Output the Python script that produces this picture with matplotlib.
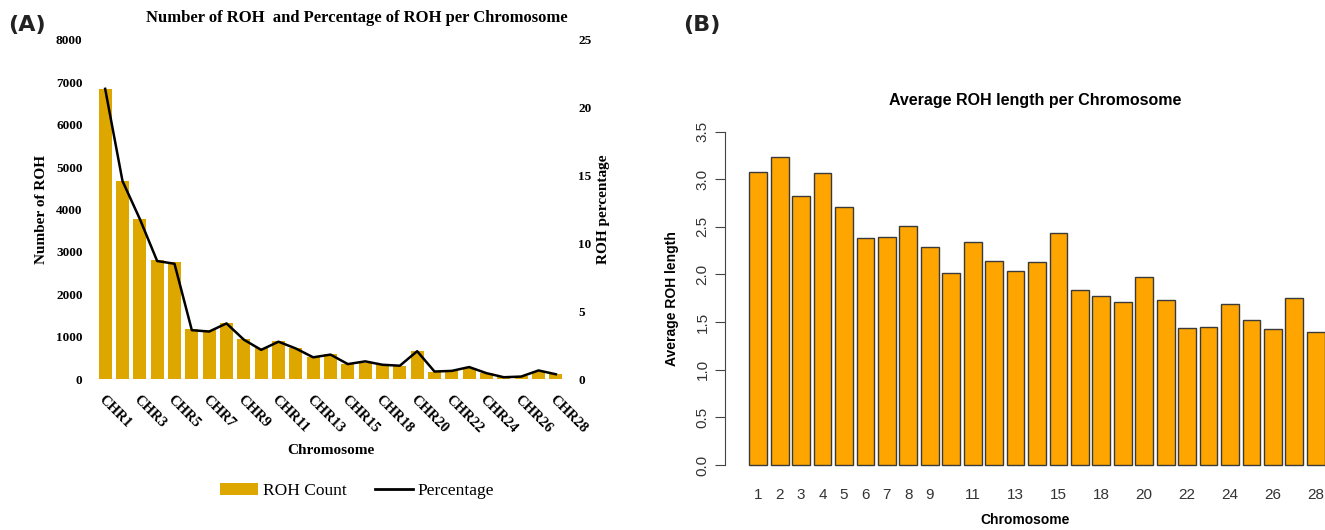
import numpy as np
import matplotlib
matplotlib.use('Agg')
import matplotlib.pyplot as plt
from matplotlib.patches import Patch
from matplotlib.lines import Line2D

# chromosomes present (no 17)
chrom = [1, 2, 3, 4, 5, 6, 7, 8, 9, 10, 11, 12, 13, 14, 15, 16,
         18, 19, 20, 21, 22, 23, 24, 25, 26, 27, 28]

roh_count = [6850, 4670, 3780, 2810, 2750, 1180, 1150, 1330, 950, 720, 900, 740, 520, 580,
             360, 380, 330, 310, 650, 175, 180, 255, 140, 60, 75, 155, 110]
roh_pct = [21.4, 14.6, 11.8, 8.7, 8.5, 3.6, 3.5, 4.1, 2.9, 2.15, 2.75, 2.25, 1.6, 1.8,
           1.1, 1.3, 1.05, 0.98, 2.05, 0.55, 0.6, 0.88, 0.43, 0.13, 0.18, 0.63, 0.35]

avg_len = [3.07, 3.23, 2.82, 3.06, 2.71, 2.38, 2.39, 2.51, 2.29, 2.01, 2.34, 2.14, 2.04, 2.13,
           2.43, 1.84, 1.77, 1.71, 1.97, 1.73, 1.44, 1.45, 1.69, 1.52, 1.43, 1.75, 1.40]

a_labels = ['CHR%d' % c for c in chrom[::2]]
b_labels = ['1', '2', '3', '4', '5', '6', '7', '8', '9', '11', '13', '15', '18',
            '20', '22', '24', '26', '28']

W, H = 1325, 530
fig = plt.figure(figsize=(13.25, 5.3), dpi=100)

def fx(px):
    return px / W

def fy(py):
    return 1 - py / H

serif = 'Liberation Serif'
sans = 'Liberation Sans'
gold = '#DEA700'
orange = '#FFA500'

# ---------------- Panel A ----------------
x = np.arange(len(chrom))
axA = fig.add_axes([fx(96.5), fy(379), fx(468), fy(40) - fy(379)])
axA.bar(x, roh_count, width=0.76, color=gold, zorder=2)
axA.set_xlim(-0.5, len(chrom) - 0.5)
axA.set_ylim(0, 8000)
axA.set_yticks(np.arange(0, 8001, 1000))
axA.set_yticklabels([str(v) for v in range(0, 8001, 1000)],
                    fontfamily=serif, fontweight='bold', fontsize=9.5)
axA.axhline(0, color='#d9d9d9', lw=1, zorder=1)
for s in axA.spines.values():
    s.set_visible(False)
axA.tick_params(axis='both', length=0)
axA.tick_params(axis='y', pad=10)
axA.set_xticks(x[::2])
axA.set_xticklabels(a_labels, rotation=-45, ha='left', va='top', rotation_mode='anchor',
                    fontfamily=serif, fontweight='bold', fontsize=10.5)
axA.tick_params(axis='x', pad=10)
axA.set_ylabel('Number of ROH', fontfamily=serif, fontweight='bold', fontsize=11, labelpad=6)
axA.set_xlabel('Chromosome', fontfamily=serif, fontweight='bold', fontsize=11, labelpad=6)

axA2 = axA.twinx()
axA2.plot(x, roh_pct, color='black', lw=1.8, zorder=3)
axA2.set_ylim(0, 25)
axA2.set_yticks(np.arange(0, 26, 5))
axA2.set_yticklabels([str(v) for v in range(0, 26, 5)],
                     fontfamily=serif, fontweight='bold', fontsize=9.5)
for s in axA2.spines.values():
    s.set_visible(False)
axA2.tick_params(axis='y', length=0, pad=10)
axA2.set_ylabel('ROH percentage', fontfamily=serif, fontweight='bold', fontsize=11, labelpad=4)

fig.text(fx(357), fy(18), 'Number of ROH  and Percentage of ROH per Chromosome',
         ha='center', va='center', fontfamily=serif, fontweight='bold', fontsize=12)

handles = [Patch(facecolor=gold, edgecolor='none', label='ROH Count'),
           Line2D([0], [0], color='black', lw=2, label='Percentage')]
fig.legend(handles=handles, loc='center', bbox_to_anchor=(fx(357), fy(491)), ncol=2,
           frameon=False, prop={'family': serif, 'size': 12.5},
           handlelength=2.2, handleheight=0.7, columnspacing=1.6, handletextpad=0.3)

# ---------------- Panel B ----------------
xb = np.arange(len(chrom))
xb_left, xb_right = -1.55, len(chrom) - 1 + 0.43
axB = fig.add_axes([fx(725), fy(474.5), fx(W - 725), fy(122) - fy(474.5)])
axB.bar(xb, avg_len, width=0.83, color=orange, edgecolor='#3a3a3a', linewidth=1.0)
axB.set_xlim(xb_left, xb_right)
axB.set_ylim(-0.1, 3.6)
axB.spines['top'].set_visible(False)
axB.spines['right'].set_visible(False)
axB.spines['bottom'].set_visible(False)
axB.spines['left'].set_bounds(0, 3.5)
axB.spines['left'].set_color('#444444')
axB.set_yticks(np.arange(0, 3.51, 0.5))
axB.set_yticklabels(['%.1f' % v for v in np.arange(0, 3.51, 0.5)], rotation=90, va='center',
                    fontfamily=sans, fontsize=11, color='#333333')
axB.tick_params(axis='y', length=7, color='#444444', pad=4)
b_pos = [chrom.index(int(l)) for l in b_labels]
axB.set_xticks(b_pos)
axB.set_xticklabels(b_labels, fontfamily=sans, fontsize=11, color='#333333')
axB.tick_params(axis='x', length=0, pad=10)
axB.set_ylabel('Average ROH length', fontfamily=sans, fontweight='bold', fontsize=10,
               labelpad=12)
axB.set_xlabel('Chromosome', fontfamily=sans, fontweight='bold', fontsize=10, labelpad=8)

fig.text(fx(1035), fy(100), 'Average ROH length per Chromosome', ha='center', va='center',
         fontfamily=sans, fontweight='bold', fontsize=11.5)

# panel letters
fig.text(fx(8), fy(25), '(A)', ha='left', va='center', fontfamily='DejaVu Sans',
         fontweight='bold', fontsize=16, color='#222222')
fig.text(fx(683), fy(25), '(B)', ha='left', va='center', fontfamily='DejaVu Sans',
         fontweight='bold', fontsize=16, color='#222222')

fig.savefig('out.png', dpi=100)
